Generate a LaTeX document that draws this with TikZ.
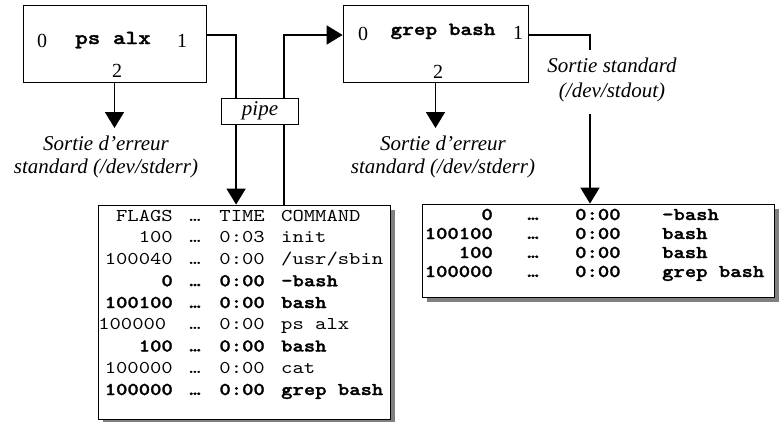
\documentclass[tikz,border=0pt]{standalone}
\usepackage{fontspec}
\setmainfont{Liberation Serif}
\newfontfamily\cour[Extension=.otf, UprightFont=lmmono10-regular,
  BoldFont=lmmonolt10-bold, BoldFeatures={FakeBold=1.5}, FakeStretch=1.2]{lmmono10-regular}
\usetikzlibrary{arrows.meta,shadows,backgrounds}

\tikzset{
  procbox/.style={draw, line width=0.8pt, fill=white, minimum height=77pt},
  fdnum/.style={inner sep=0pt, anchor=base, font=\fontsize{20}{20}\selectfont},
  cmdname/.style={inner sep=0pt, anchor=base},
  flux/.style={inner sep=0pt, anchor=north, align=center, font=\fontsize{21}{23}\selectfont\itshape},
  conn/.style={line width=1.8pt},
  tip/.style={-{Triangle[width=19pt,length=16pt]}},
  listing/.style={draw, line width=0.8pt, fill=white,
    drop shadow={shadow xshift=5pt, shadow yshift=-5pt, fill=black!50, opacity=1}},
  cell/.style={inner sep=0pt, font=\fontsize{18}{18}\selectfont\cour},
}

\begin{document}
\begin{tikzpicture}[x=1pt,y=-1pt]
  \useasboundingbox (0,0) rectangle (780,421);

  % the two processes
  \node[procbox, minimum width=183pt] (ps) at (114.5,43.5) {};
  \node[fdnum] (ps0) at (42,47) {0};
  \node[cmdname, font=\fontsize{20}{20}\selectfont\cour\bfseries] (pscmd) at (113,44) {ps alx};
  \node[fdnum] (ps1) at (182,47) {1};
  \node[fdnum] (ps2) at (117,77) {2};

  \node[procbox, minimum width=185pt] (grep) at (435.5,43.5) {};
  \node[fdnum] (grep0) at (363,40) {0};
  \node[cmdname, font=\fontsize{18.5}{18.5}\selectfont\cour\bfseries] (grepcmd) at (443,35) {grep bash};
  \node[fdnum] (grep1) at (518,39) {1};
  \node[fdnum] (grep2) at (438,78) {2};

  % the pipe between them
  \node[draw, line width=0.8pt, fill=white, minimum width=77pt, minimum height=26pt,
        inner sep=0pt, font=\fontsize{21}{21}\selectfont\itshape] (pipe) at (260,111) {pipe};

  % error and output streams
  \node[flux] (pserr) at (106,136) {Sortie d’erreur\\standard (/dev/stderr)};
  \node[flux] (greperr) at (443,136) {Sortie d’erreur\\standard (/dev/stderr)};
  \node[flux, font=\fontsize{21}{25}\selectfont\itshape] (grepout) at (612,58) {Sortie standard\\(/dev/stdout)};
  \coordinate (outx) at (590,0);

  % listings
  \node[listing, minimum width=292pt, minimum height=214pt] (tab1) at (244,312) {};
  \node[listing, minimum width=352pt, minimum height=93pt] (tab2) at (598,250.5) {};

  % full ps output
  \foreach \fl/\tm/\cm/\wt/\dx [count=\i from 0] in {
      FLAGS/TIME/COMMAND/\mdseries/0,
      100/0:03/init/\mdseries/0,
      100040/0:00/{/usr/sbin}/\mdseries/0,
      0/0:00/-bash/\bfseries/0,
      100100/0:00/bash/\bfseries/0,
      100000/0:00/ps alx/\mdseries/-6.5,
      100/0:00/bash/\bfseries/0,
      100000/0:00/cat/\mdseries/0,
      100000/0:00/grep bash/\bfseries/0} {
    \node[cell, anchor=base east] (lf\i) at (173+\dx,221+21.75*\i) {\wt\fl};
    \node[cell, anchor=base] (ld\i) at (195,221+21.75*\i) {\wt…};
    \node[cell, anchor=base east] (lt\i) at (265,221+21.75*\i) {\wt\tm};
    \node[cell, anchor=base west] (lc\i) at (281,221+21.75*\i) {\wt\cm};
  }

  % filtered by grep
  \foreach \fl/\cm [count=\i from 0] in {0/-bash, 100100/bash, 100/bash, 100000/grep bash} {
    \node[cell, anchor=base east] (rf\i) at (493,220+19*\i) {\bfseries\fl};
    \node[cell, anchor=base] (rd\i) at (533,220+19*\i) {\bfseries…};
    \node[cell, anchor=base west] (rt\i) at (575,220+19*\i) {\bfseries 0:00};
    \node[cell, anchor=base west] (rc\i) at (662,220+19*\i) {\bfseries\cm};
  }

  % connectors go behind the boxes
  \begin{scope}[on background layer]
    \draw[conn, tip] ([yshift=8.5pt]ps.east) -| ([xshift=15pt]pipe.west |- tab1.north);
    \draw[conn, tip] ([xshift=-15pt]pipe.east |- tab1.north) |- ([yshift=8.5pt]grep.west);
    \draw[conn, tip] (ps.south) -- ([yshift=8pt]ps.south |- pserr.north);
    \draw[conn, tip] (grep.south) -- ([yshift=8pt]grep.south |- greperr.north);
    \draw[conn] ([yshift=8.5pt]grep.east) -| ([yshift=8pt]outx |- grepout.north);
    \draw[conn, tip] ([yshift=-12pt]outx |- grepout.south) -- (outx |- tab2.north);
  \end{scope}
\end{tikzpicture}
\end{document}
